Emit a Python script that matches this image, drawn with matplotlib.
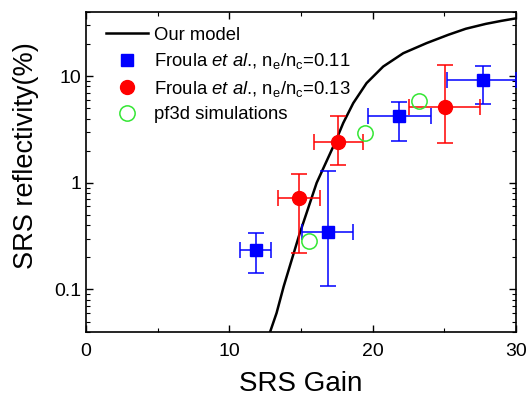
import numpy as np
import matplotlib.pyplot as plt
from matplotlib.lines import Line2D

plt.rcParams['font.family'] = ['Liberation Sans', 'DejaVu Sans']
plt.rcParams['mathtext.fontset'] = 'custom'
plt.rcParams['mathtext.rm'] = 'Liberation Sans'
plt.rcParams['mathtext.it'] = 'Liberation Sans:italic'

# model curve
model_gain = [12.85, 13.3, 13.8, 14.9, 16.1, 17.37, 17.95, 18.65, 19.58, 20.74,
              22.14, 23.77, 25.28, 26.5, 27.9, 29.0, 30.0]
model_refl = [0.04, 0.06, 0.107, 0.33, 1.0, 2.36, 3.63, 5.58, 8.6, 12.3,
              16.4, 20.4, 24.4, 27.8, 30.9, 33.0, 34.8]

# Froula et al., ne/nc = 0.11 (blue squares)
blue_gain = [11.86, 16.87, 21.86, 27.73]
blue_refl = [0.235, 0.345, 4.27, 9.1]
blue_xlo = [10.75, 15.05, 19.7, 25.2]
blue_xhi = [12.93, 18.6, 24.07, 30.0]
blue_ylo = [0.144, 0.107, 2.46, 5.5]
blue_yhi = [0.335, 1.30, 5.78, 12.5]

# Froula et al., ne/nc = 0.13 (red circles)
red_gain = [14.89, 17.6, 25.07]
red_refl = [0.713, 2.42, 5.19]
red_xlo = [13.42, 15.91, 22.56]
red_xhi = [16.33, 19.3, 27.5]
red_ylo = [0.222, 1.47, 2.37]
red_yhi = [1.20, 4.27, 12.7]

# pf3d simulations (open green circles)
pf3d_gain = [15.58, 19.49, 23.26]
pf3d_refl = [0.286, 2.92, 5.83]


def err(c, lo, hi):
    c = np.array(c); return np.vstack([c - np.array(lo), np.array(hi) - c])


fig = plt.figure(figsize=(5.27, 3.97), dpi=100)
ax = fig.add_axes([0.163, 0.164, 0.816, 0.806])

ax.plot(model_gain, model_refl, color='black', lw=1.8, zorder=3)
ax.errorbar(blue_gain, blue_refl, xerr=err(blue_gain, blue_xlo, blue_xhi),
            yerr=err(blue_refl, blue_ylo, blue_yhi), fmt='s', color='blue',
            ms=9, elinewidth=1.1, capsize=5.5, capthick=1.1, zorder=4)
ax.errorbar(red_gain, red_refl, xerr=err(red_gain, red_xlo, red_xhi),
            yerr=err(red_refl, red_ylo, red_yhi), fmt='o', color='red',
            ms=10, elinewidth=1.1, capsize=5.5, capthick=1.1, zorder=4)
ax.plot(pf3d_gain, pf3d_refl, 'o', mfc='none', mec='#33e633', mew=1.1, ms=11, zorder=5)

ax.set_yscale('log')
ax.set_xlim(0, 30)
ax.set_ylim(0.04, 40)
ax.set_xticks([0, 10, 20, 30])
ax.set_xticks([5, 15, 25], minor=True)
ax.set_yticks([0.1, 1, 10])
ax.set_yticklabels(['0.1', '1', '10'])
ax.tick_params(which='both', direction='in', top=True, right=True, labelsize=14)
ax.tick_params(which='major', length=5, width=1)
ax.tick_params(which='minor', length=3, width=0.8)
ax.tick_params(axis='x', pad=8)
for s in ax.spines.values():
    s.set_linewidth(1.2)

ax.set_xlabel('SRS Gain', fontsize=20, labelpad=8)
ax.set_ylabel('SRS reflectivity(%)', fontsize=19.5)
ax.yaxis.set_label_coords(-0.11, 0.55)

handles = [
    Line2D([], [], color='black', lw=1.8),
    Line2D([], [], marker='s', ls='none', color='blue', ms=9),
    Line2D([], [], marker='o', ls='none', color='red', ms=10),
    Line2D([], [], marker='o', ls='none', mfc='none', mec='#33e633', mew=1.1, ms=11),
]
labels = ['Our model',
          r'Froula $\mathit{et\ al}$., n$_\mathrm{e}$/n$_\mathrm{c}$=0.11',
          r'Froula $\mathit{et\ al}$., n$_\mathrm{e}$/n$_\mathrm{c}$=0.13',
          'pf3d simulations']
ax.legend(handles, labels, loc='upper left', frameon=False, fontsize=13.3,
          handlelength=2.3, handletextpad=0.3, labelspacing=0.4,
          bbox_to_anchor=(0.007, 1.005))

fig.savefig('out.png', dpi=100)
